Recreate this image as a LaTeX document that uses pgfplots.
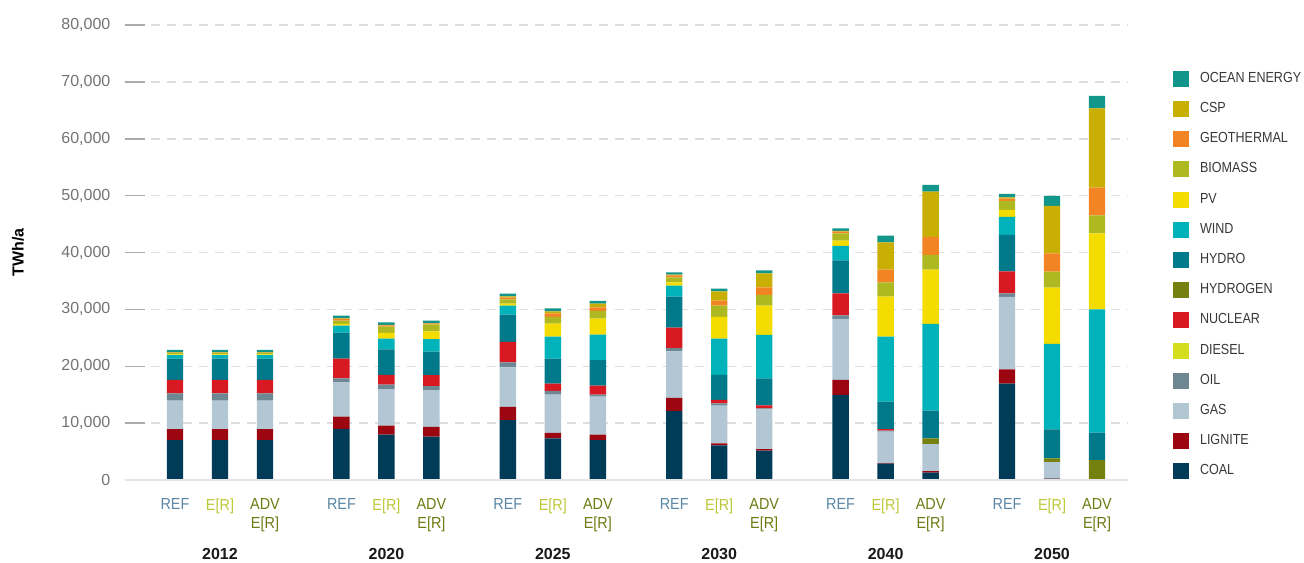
\documentclass[border=0pt]{standalone}
\usepackage{fontspec}
\setmainfont{Liberation Sans}
\newfontfamily\narrowfont[FakeStretch=0.9]{Liberation Sans}
\newfontfamily\legfont[FakeStretch=0.86]{Liberation Sans}
\usepackage{pgfplots}
\usepackage{pgfplotstable}
\pgfplotsset{compat=1.18}

\definecolor{ocean}{HTML}{12958A}
\definecolor{csp}{HTML}{C9AE03}
\definecolor{geo}{HTML}{F28423}
\definecolor{biomass}{HTML}{AEB820}
\definecolor{pv}{HTML}{F5DC00}
\definecolor{wind}{HTML}{00B3BA}
\definecolor{hydro}{HTML}{007A8A}
\definecolor{hydrogen}{HTML}{76800E}
\definecolor{nuclear}{HTML}{D81921}
\definecolor{diesel}{HTML}{D4DE1F}
\definecolor{oil}{HTML}{6D8893}
\definecolor{gas}{HTML}{B2C7D3}
\definecolor{lignite}{HTML}{9C0610}
\definecolor{coal}{HTML}{003B57}
\definecolor{refc}{HTML}{5A87A5}
\definecolor{erc}{HTML}{BCC83A}
\definecolor{advc}{HTML}{6F7A12}

\pgfplotstableread{
x coal lignite gas oil diesel nuclear hydrogen hydro wind pv biomass geo csp ocean
175 7000 1950 5000 1300 0 2350 0 3750 600 150 300 50 20 400
220 7000 1950 5000 1300 0 2350 0 3750 600 150 300 50 20 400
265 7000 1950 5000 1300 0 2350 0 3750 600 150 300 50 20 400
341.4 9000 2150 6050 650 0 3500 0 4570 1230 290 590 290 100 500
386.4 8000 1580 6390 800 0 1700 0 4510 1875 1000 1110 230 100 400
431.4 7620 1700 6500 700 0 1940 0 4100 2230 1350 1230 150 50 450
507.8 10550 2290 6975 880 0 3575 0 4800 1585 350 760 300 230 470
552.8 7330 940 6740 645 0 1290 0 4396 3870 2286 1172 645 350 530
597.8 7030 940 6680 350 0 1585 0 4515 4455 2815 1350 645 645 470
674.2 12130 2290 8205 585 0 3575 0 5450 1935 585 880 350 120 400
719.2 6100 350 6625 410 0 585 0 4395 6390 3810 1995 880 1640 470
764.2 5160 290 6975 175 0 530 0 4750 7620 5160 1875 1350 2460 530
840.6 14950 2640 10725 645 0 3870 0 5800 2520 940 1290 290 150 440
885.6 2870 100 5530 175 0 290 0 4810 11430 7035 2520 2230 4810 1170
930.6 1290 290 4750 0 0 0 1000 4865 15240 9555 2580 3165 7970 1175
1007 16940 2520 12720 645 0 3870 0 6390 3165 1230 1580 410 235 585
1052 235 50 2880 0 0 0 645 5100 15005 9905 2815 3225 8325 1760
1097 0 0 0 0 0 0 3515 4810 21690 13365 3165 4865 13950 2170
}\data

\begin{document}
\begin{tikzpicture}
\useasboundingbox (-62.5pt,-41pt) rectangle (589.5pt,240pt);
\begin{axis}[
  at={(0,0)}, anchor=south west,
  scale only axis, width=501.5pt, height=227.5pt,
  xmin=125, xmax=1128, ymin=0, ymax=80000,
  ybar stacked, bar width=8.2pt,
  axis line style={draw=none},
  ytick={0,10000,...,80000},
  ytick pos=left, tick align=inside, major tick length=10pt,
  ytick style={draw=black!33, line width=0.75pt},
  ymajorgrids,
  grid style={draw=black!13, line width=0.75pt, dash pattern=on 4.5pt off 3.5pt, dash phase=-5pt},
  scaled y ticks=false,
  yticklabel style={font=\fontsize{8}{9}\selectfont, text=black!55, xshift=-3.8pt,
    /pgf/number format/.cd, fixed, 1000 sep={,}, assume math mode=true},
  every axis y label/.style={at={(axis description cs:0,0.5)}, rotate=90, anchor=center,
    yshift=53.5pt, font=\bfseries\fontsize{8}{9}\selectfont},
  ylabel={TWh/a},
  xtick={175,220,265,341.4,386.4,431.4,507.8,552.8,597.8,674.2,719.2,764.2,840.6,885.6,930.6,1007,1052,1097},
  xticklabels={
    \color{refc}REF, \color{erc}E[R], \color{advc}ADV\\\color{advc}E[R],
    \color{refc}REF, \color{erc}E[R], \color{advc}ADV\\\color{advc}E[R],
    \color{refc}REF, \color{erc}E[R], \color{advc}ADV\\\color{advc}E[R],
    \color{refc}REF, \color{erc}E[R], \color{advc}ADV\\\color{advc}E[R],
    \color{refc}REF, \color{erc}E[R], \color{advc}ADV\\\color{advc}E[R],
    \color{refc}REF, \color{erc}E[R], \color{advc}ADV\\\color{advc}E[R]},
  xtick style={draw=none},
  xticklabel style={font=\narrowfont\fontsize{8}{9.4}\selectfont, align=center, anchor=north, yshift=-5.8pt},
  extra x ticks={220,386.4,552.8,719.2,885.6,1052},
  extra x tick labels={2012,2020,2025,2030,2040,2050},
  extra x tick style={xtick style={draw=none}, major tick length=0pt,
    xticklabel style={font=\bfseries\fontsize{8}{9}\selectfont, text=black!90, yshift=-25pt}},
  legend style={at={(1,1)}, anchor=north west, xshift=22.5pt, yshift=-22.85pt,
    draw=none, fill=none, inner sep=0pt, outer sep=0pt,
    font=\legfont\fontsize{7.3}{9}\selectfont, text=black!78,
    row sep=7.1pt, nodes={inner sep=0pt, anchor=west},
    /tikz/every odd column/.append style={column sep=5.5pt}},
  legend cell align=left,
  legend image code/.code={\fill[#1] (0pt,-4pt) rectangle (8pt,4pt);},
  reverse legend,
]
\draw[black!10, line width=0.75pt] (rel axis cs:0,0) -- (rel axis cs:1,0);
\addplot[fill=coal, draw=none] table[x=x,y=coal]{\data};
\addlegendentry{COAL}
\addplot[fill=lignite, draw=none] table[x=x,y=lignite]{\data};
\addlegendentry{LIGNITE}
\addplot[fill=gas, draw=none] table[x=x,y=gas]{\data};
\addlegendentry{GAS}
\addplot[fill=oil, draw=none] table[x=x,y=oil]{\data};
\addlegendentry{OIL}
\addplot[fill=diesel, draw=none] table[x=x,y=diesel]{\data};
\addlegendentry{DIESEL}
\addplot[fill=nuclear, draw=none] table[x=x,y=nuclear]{\data};
\addlegendentry{NUCLEAR}
\addplot[fill=hydrogen, draw=none] table[x=x,y=hydrogen]{\data};
\addlegendentry{HYDROGEN}
\addplot[fill=hydro, draw=none] table[x=x,y=hydro]{\data};
\addlegendentry{HYDRO}
\addplot[fill=wind, draw=none] table[x=x,y=wind]{\data};
\addlegendentry{WIND}
\addplot[fill=pv, draw=none] table[x=x,y=pv]{\data};
\addlegendentry{PV}
\addplot[fill=biomass, draw=none] table[x=x,y=biomass]{\data};
\addlegendentry{BIOMASS}
\addplot[fill=geo, draw=none] table[x=x,y=geo]{\data};
\addlegendentry{GEOTHERMAL}
\addplot[fill=csp, draw=none] table[x=x,y=csp]{\data};
\addlegendentry{CSP}
\addplot[fill=ocean, draw=none] table[x=x,y=ocean]{\data};
\addlegendentry{OCEAN ENERGY}
\end{axis}
\end{tikzpicture}
\end{document}
